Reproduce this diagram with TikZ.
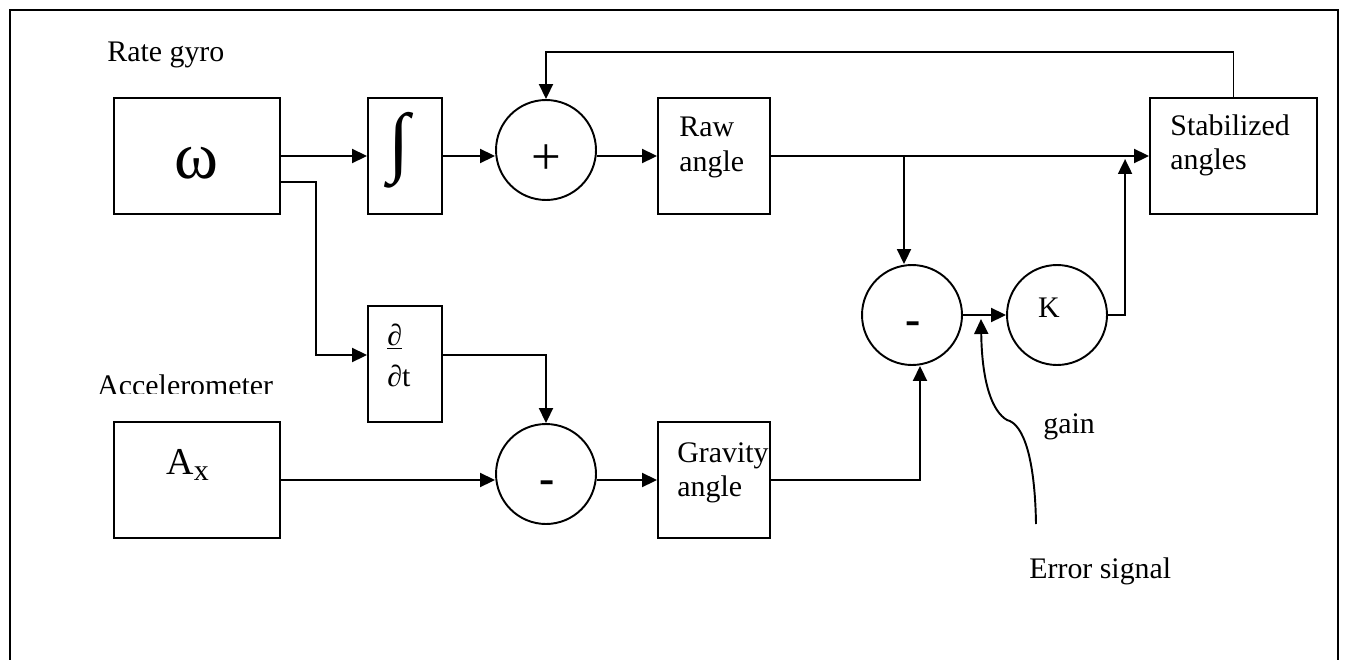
\documentclass[tikz,border=0pt]{standalone}
\usepackage{fontspec}
\setmainfont{Liberation Serif}
\usetikzlibrary{arrows.meta,positioning,calc}

\begin{document}
\begin{tikzpicture}[x=0.02cm, y=-0.02cm,
  blk/.style={
    rectangle, draw=black, line width=1.1pt,
    minimum height=2.32cm
  },
  sumnode/.style={circle, draw=black, line width=1.1pt, minimum size=2cm, inner sep=0pt},
  conn/.style={-{Triangle[length=0.3cm,width=0.28cm]}, line width=1.1pt},
  lbl/.style={font=\fontsize{17}{19.4}\selectfont, inner sep=0pt, align=left}
]
\useasboundingbox (0,0) rectangle (1345,659);
\draw[line width=1.1pt] (10,680) -- (10,10) -- (1338,10) -- (1338,680);

% blocks
\node[blk, minimum width=3.32cm] (gyro)  at (197,156)    {};
\node[blk, minimum width=1.48cm] (integ) at (405,156)    {};
\node[sumnode]                   (plus)  at (546,150)    {};
\node[blk, minimum width=2.24cm] (raw)   at (714,156)    {};
\node[blk, minimum width=3.34cm] (stab)  at (1233.5,156) {};
\node[blk, minimum width=1.48cm] (dt)    at (405,364)    {};
\node[blk, minimum width=3.32cm] (accel) at (197,480)    {};
\node[sumnode]                   (diffg) at (546,474)    {};
\node[blk, minimum width=2.24cm] (grav)  at (714,480)    {};
\node[sumnode]                   (diffe) at (912,315)    {};
\node[sumnode]                   (gain)  at (1057,315)   {};

% texts
\node[lbl, anchor=base west] (gyrolbl) at (107,61) {Rate gyro};
\begin{scope}
  \clip (80,355) rectangle (320,393.5);
  \node[lbl, anchor=base west] (acclbl) at (97,395) {Accelerometer};
\end{scope}
\node[font=\fontsize{38}{40}\selectfont, anchor=base] (omega) at (196,178) {ω};
\node[font=\fontsize{44}{44}\selectfont] (intsym) at (399,150) {∫};
\node[lbl, anchor=north west] (dtlbl) at ([xshift=0.4cm,yshift=-0.38cm]dt.north west) {\underline{∂}\\[0.12cm]∂t};
\node[lbl, anchor=base west] (axlbl) at (166,474)
  {\fontsize{21.6}{24}\selectfont A\raisebox{-0.12cm}{\fontsize{17}{19}\selectfont x}};
\node[font=\fontsize{30}{30}\selectfont] (plussym) at (546,160) {+};
\node[font=\fontsize{26}{26}\selectfont\bfseries] (minusg) at (547,487) {-};
\node[font=\fontsize{26}{26}\selectfont\bfseries] (minuse) at (913,328) {-};
\node[lbl, anchor=base] (ksym) at (1049,317) {K};
\node[lbl, anchor=north west] (rawlbl) at ([xshift=0.44cm,yshift=-0.4cm]raw.north west) {Raw\\angle};
\node[lbl, anchor=north west] (gravlbl) at ([xshift=0.4cm,yshift=-0.42cm]grav.north west) {Gravity\\angle};
\node[lbl, anchor=north west] (stablbl) at ([xshift=0.42cm,yshift=-0.34cm]stab.north west) {Stabilized\\angles};
\node[lbl, anchor=base west] (gainlbl) at (1043,433) {gain};
\node[lbl, anchor=base west] (errlbl) at (1029,578) {Error signal};

% connectors
\coordinate (wbend) at (316,182);
\coordinate (brk) at ([xshift=-0.16cm]diffe.north);
\coordinate (tapb) at ([xshift=0.16cm]diffe.south);
\coordinate (kup) at ([xshift=-0.48cm,yshift=-0.06cm]stab.west);
\coordinate (fbtop) at (0,52);
\coordinate (errsrc) at (1036,524);
\coordinate (errtip) at (981,319);

\draw[conn] (gyro.east) -- (integ.west);
\draw[conn] ([yshift=-0.52cm]gyro.east) -- (wbend) |- ([yshift=0.18cm]dt.west);
\draw[conn] (integ.east) -- (integ.east -| plus.west);
\draw[conn] (plus.east |- raw.west) -- (raw.west);
\draw[conn] (raw.east) -- (stab.west);
\draw[conn] (brk |- raw.east) -- (brk);
\draw[conn] ([yshift=0.18cm]dt.east) -| (diffg.north);
\draw[conn] (accel.east) -- (accel.east -| diffg.west);
\draw[conn] (diffg.east |- grav.west) -- (grav.west);
\draw[conn] (grav.east) -| (tapb);
\draw[conn] (diffe.east) -- (gain.west);
\draw[conn] (gain.east) -| (kup);
\draw[conn] (stab.north) |- (fbtop -| plus.north) -- (plus.north);
\draw[conn] (errsrc) .. controls (1035,460) and (1024,424) .. (1007,420)
  .. controls (993,412) and (982,385) .. (errtip);
\end{tikzpicture}
\end{document}
